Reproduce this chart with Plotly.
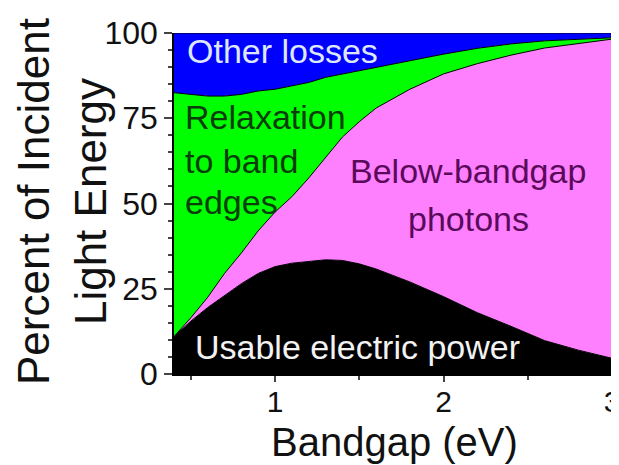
import plotly.graph_objects as go

# Bandgap (eV)
bandgap = [0.4, 0.5, 0.6, 0.7, 0.8, 0.9, 1.0, 1.1, 1.2, 1.3, 1.4, 1.5, 1.6,
           1.8, 2.0, 2.2, 2.4, 2.6, 2.8, 3.0]
# cumulative boundaries (percent)
usable_power = [11, 15.5, 19.5, 23, 26.5, 29.5, 31.5, 32.5, 33, 33.5, 33.3, 32.3, 30.8,
                27, 22.7, 18, 14, 9.8, 7, 4.6]
below_top = [11, 16.5, 22.5, 29.5, 35.5, 42, 47.5, 52, 57.5, 63.5, 69.5, 74, 78,
             83.5, 88, 91, 93.5, 95.6, 97, 98.2]
relax_top = [82.5, 82, 81.5, 81.5, 82, 83, 83.5, 84.5, 85.5, 87, 88, 89, 90,
             92, 93.8, 95.5, 96.8, 97.7, 98.2, 98.6]

below_bandgap = [b - u for b, u in zip(below_top, usable_power)]
relaxation = [r - b for r, b in zip(relax_top, below_top)]
other_losses = [100 - r for r in relax_top]

series = [
    ("Usable electric power", usable_power, "#000000"),
    ("Below-bandgap photons", below_bandgap, "#ff80ff"),
    ("Relaxation to band edges", relaxation, "#00ff00"),
    ("Other losses", other_losses, "#0000ff"),
]

fig = go.Figure()
for name, vals, col in series:
    fig.add_trace(go.Scatter(
        x=bandgap, y=vals, name=name, stackgroup="one", mode="lines",
        line=dict(color="#000000", width=1), fillcolor=col, showlegend=False,
        hoverinfo="skip"))

FONT = "Liberation Sans, Arial, sans-serif"
ann = [
    ("Other losses", 0.465, 94.7, "left", "#dde8ff"),
    ("Relaxation", 0.452, 75.4, "left", "#0b3d0b"),
    ("to band", 0.452, 62.5, "left", "#0b3d0b"),
    ("edges", 0.452, 50.5, "left", "#0b3d0b"),
    ("Below-bandgap", 2.146, 59.5, "center", "#5a0a5a"),
    ("photons", 2.146, 45.5, "center", "#5a0a5a"),
    ("Usable electric power", 0.51, 7.9, "left", "#f2f2f2"),
]
for t, x, y, xa, c in ann:
    fig.add_annotation(x=x, y=y, text=t, showarrow=False, xanchor=xa, yanchor="middle",
                       font=dict(family=FONT, size=34, color=c))

# axis titles as paper annotations
fig.add_annotation(xref="paper", yref="paper", x=0.503, y=-0.2, text="Bandgap (eV)",
                   showarrow=False, xanchor="center", yanchor="middle",
                   font=dict(family=FONT, size=40, color="#111111"))
fig.add_annotation(xref="paper", yref="paper", x=-0.256, y=0.507,
                   text="Percent of Incident<br>Light Energy", textangle=-90,
                   showarrow=False, xanchor="center", yanchor="middle",
                   font=dict(family=FONT, size=44, color="#111111"))

# page body has an 8px margin, so the figure is sized to fill the rest of the window
fig.update_layout(
    width=611, height=457,
    margin=dict(l=166, r=7, t=25, b=91, autoexpand=False),
    paper_bgcolor="white", plot_bgcolor="white",
    font=dict(family=FONT, color="#111111"),
)
fig.update_xaxes(
    range=[0.4, 3], tickvals=[1, 2, 3], ticks="outside", ticklen=6, tickwidth=1.5,
    minor=dict(tickvals=[0.5, 1.5, 2.5], ticks="outside", ticklen=4, tickwidth=1.5),
    showgrid=False, zeroline=False, showline=True, linecolor="black", linewidth=2,
    tickfont=dict(size=30, family=FONT), automargin=False,
    ticklabeloverflow="allow", ticklabelstandoff=-6,
)
fig.update_yaxes(
    range=[0, 100], tickvals=[0, 25, 50, 75, 100], ticks="outside", ticklen=8, tickwidth=1.5,
    minor=dict(dtick=5, ticks="outside", ticklen=4, tickwidth=1.5),
    showgrid=False, zeroline=False, showline=True, linecolor="black", linewidth=1.5,
    mirror=True, automargin=False,
    tickfont=dict(size=32, family=FONT),
)

fig.write_html("out.html")
